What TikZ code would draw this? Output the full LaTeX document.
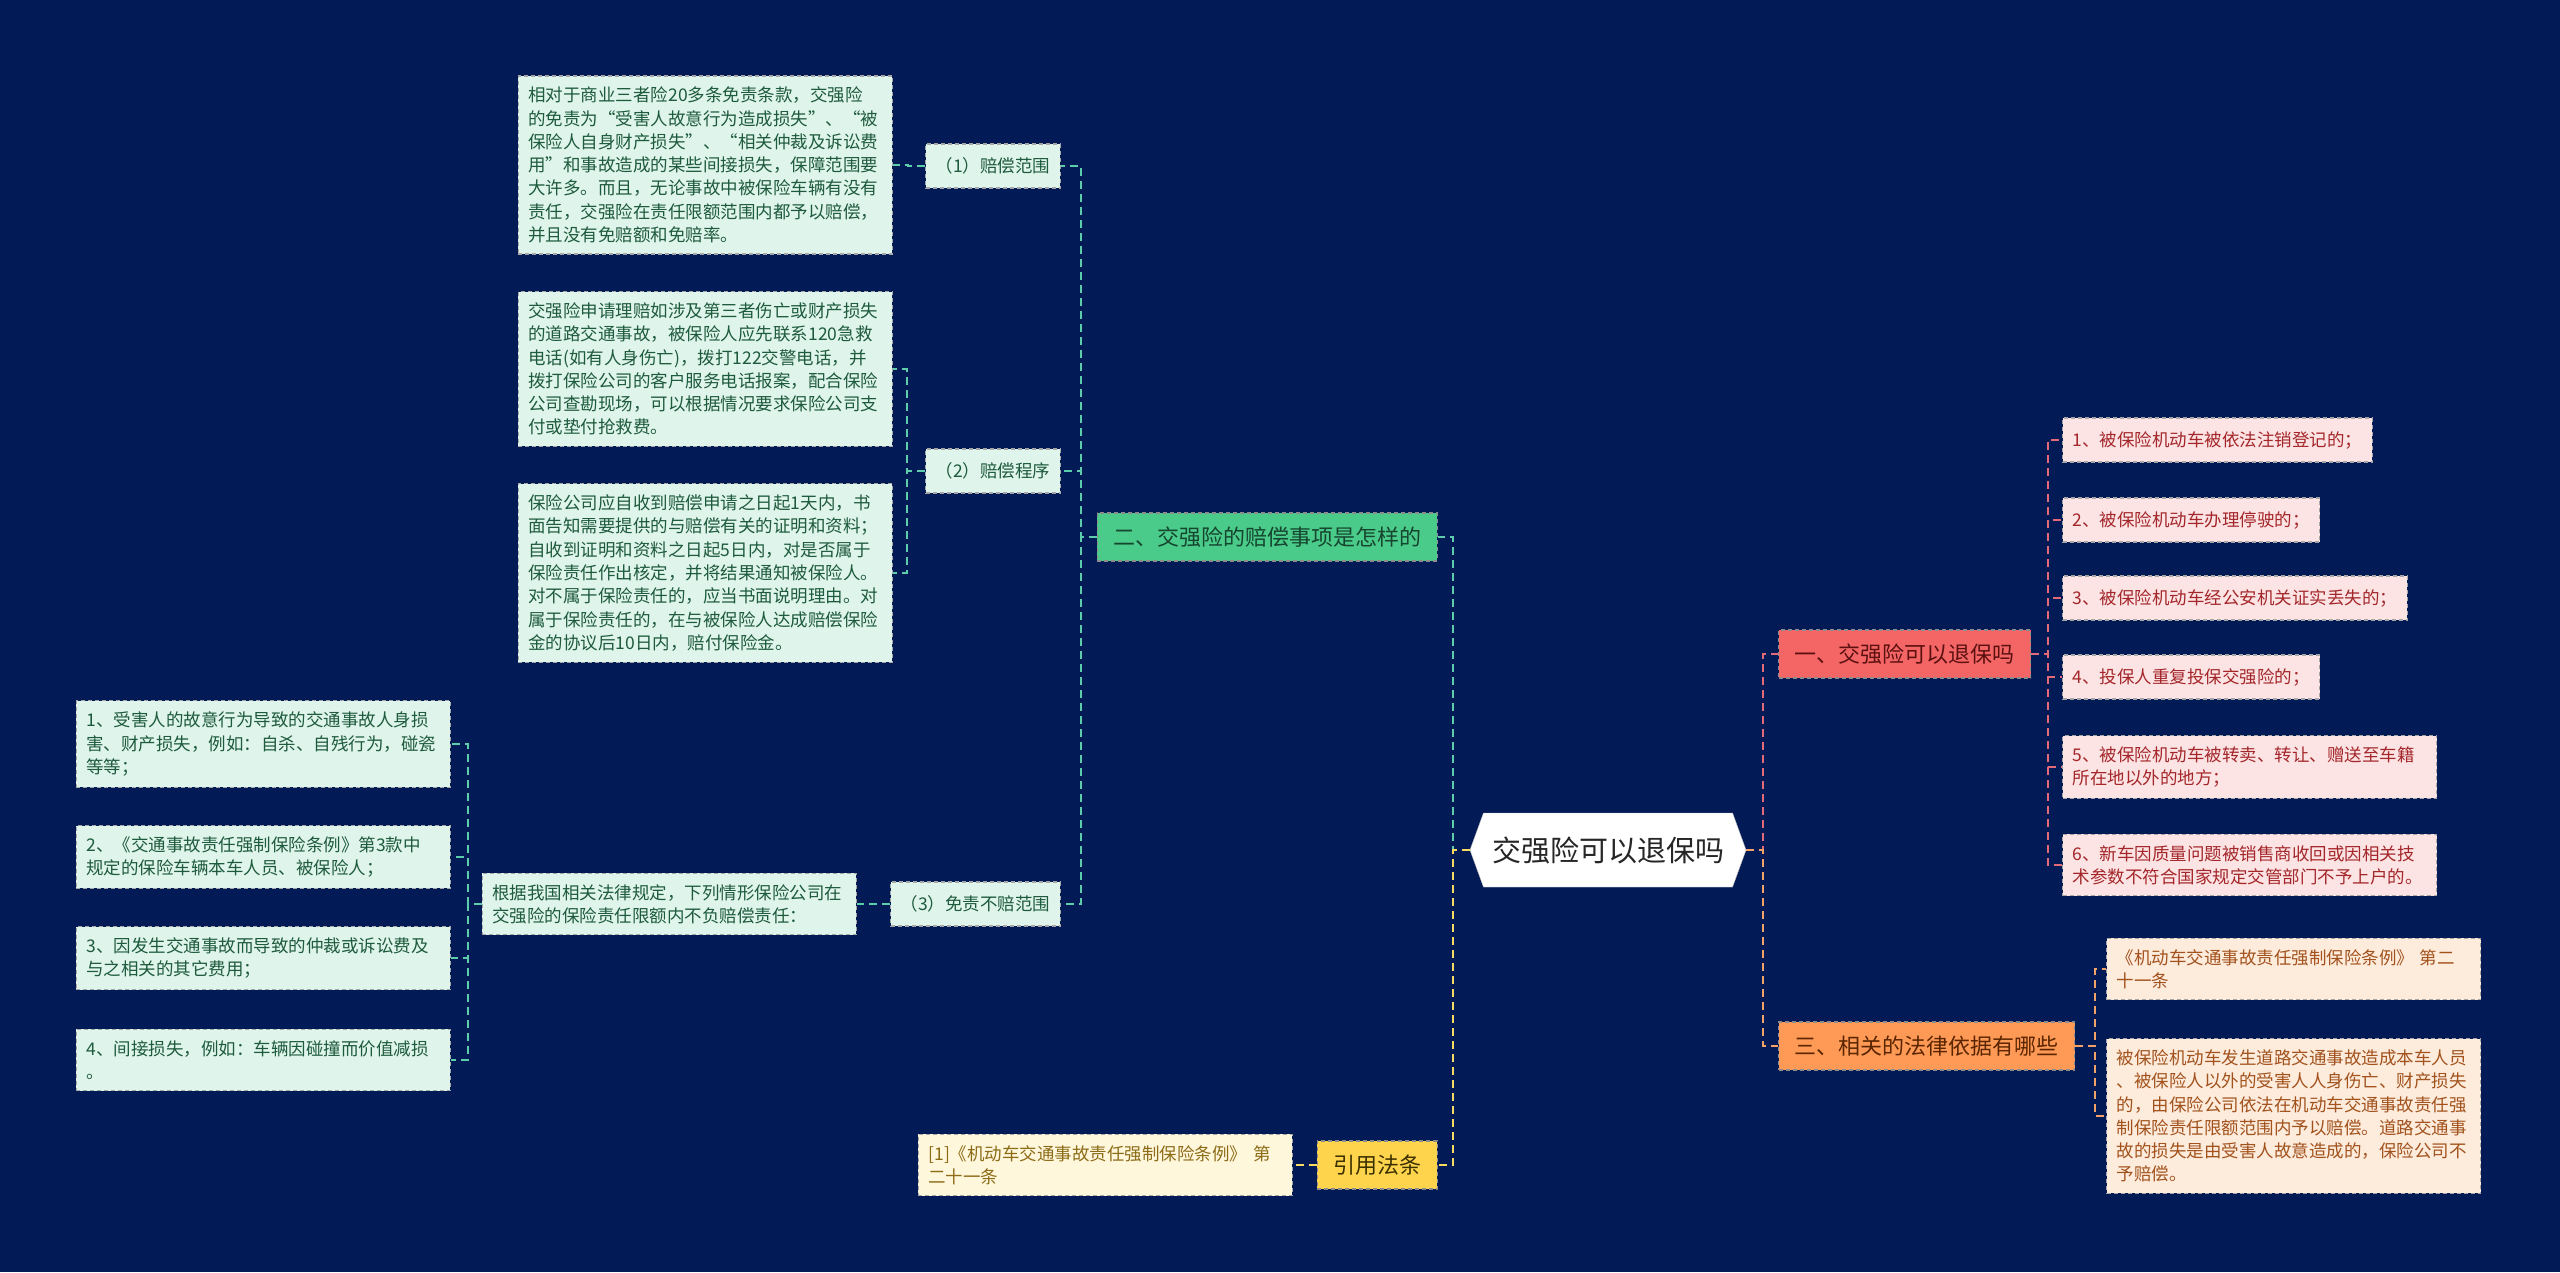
\documentclass[tikz,border=0pt]{standalone}
\usepackage{fontspec}
\setmainfont{Noto Sans CJK SC}
\usetikzlibrary{shapes.symbols}
\definecolor{bg}{HTML}{021B56}
\definecolor{gfill}{HTML}{DFF5EC}
\definecolor{gtext}{HTML}{1E5A3C}
\definecolor{gline}{HTML}{5CCDAA}
\definecolor{gsec}{HTML}{4ACB8A}
\definecolor{gsectext}{HTML}{16462F}
\definecolor{rfill}{HTML}{FDE4E4}
\definecolor{rtext}{HTML}{A3262A}
\definecolor{rline}{HTML}{E36B78}
\definecolor{rsec}{HTML}{F46666}
\definecolor{rsectext}{HTML}{5C1010}
\definecolor{ofill}{HTML}{FDEBDC}
\definecolor{otext}{HTML}{A2521D}
\definecolor{oline}{HTML}{F2A267}
\definecolor{osec}{HTML}{FF9A56}
\definecolor{osectext}{HTML}{5A2500}
\definecolor{yfill}{HTML}{FFF7DB}
\definecolor{ytext}{HTML}{8C6B17}
\definecolor{yline}{HTML}{F6DA62}
\definecolor{ysec}{HTML}{FFD44D}
\definecolor{ysectext}{HTML}{3B3000}
\tikzset{
  base/.style={rectangle, inner xsep=10pt, inner ysep=11pt, draw=black!35,
    line width=1.2pt, dash pattern=on 4pt off 3pt,
    font=\fontsize{17.5pt}{23.3pt}\selectfont},
  wide/.style={text width=354pt, align=left},
  one/.style={minimum height=44pt},
  leafg/.style={base, fill=gfill, text=gtext},
  leafr/.style={base, fill=rfill, text=rtext},
  leafo/.style={base, fill=ofill, text=otext},
  leafy/.style={base, fill=yfill, text=ytext},
  sec/.style={rectangle, inner xsep=16pt, minimum height=48pt, draw=black!45,
    line width=1.2pt, dash pattern=on 4pt off 3pt,
    font=\fontsize{22pt}{26pt}\selectfont},
  rootbox/.style={signal, signal to=west and east, signal pointer angle=140,
    fill=white, draw=black!25, minimum width=276pt, minimum height=74pt,
    font=\fontsize{29pt}{34pt}\selectfont, text=black!85},
  ln/.style={line width=2pt, dash pattern=on 8pt off 5pt},
  lng/.style={ln, draw=gline},
  lnr/.style={ln, draw=rline},
  lno/.style={ln, draw=oline},
  lny/.style={ln, draw=yline}
}
\begin{document}
\begin{tikzpicture}[x=1pt,y=-1pt]
\fill[bg] (0,0) rectangle (2560,1272);
\useasboundingbox (0,0) rectangle (2560,1272);

\node[rootbox] (root) at (1608,850) {交强险可以退保吗};

\node[sec, fill=gsec, text=gsectext, anchor=east] (sec2) at (1438,537) {二、交强险的赔偿事项是怎样的};
\node[sec, fill=ysec, text=ysectext, anchor=east] (secy) at (1438,1165) {引用法条};
\node[sec, fill=rsec, text=rsectext, anchor=west] (sec1) at (1778,654) {一、交强险可以退保吗};
\node[sec, fill=osec, text=osectext, anchor=west] (sec3) at (1778,1046) {三、相关的法律依据有哪些};

\node[leafg, one, anchor=east] (sub1) at (1061,166) {（1）赔偿范围};
\node[leafg, one, anchor=east] (sub2) at (1061,471) {（2）赔偿程序};
\node[leafg, one, anchor=east] (sub3) at (1061,904) {（3）免责不赔范围};

\node[leafg, wide, anchor=east] (a1) at (893,165) {相对于商业三者险20多条免责条款，交强险\\的免责为“受害人故意行为造成损失”、“被\\保险人自身财产损失”、“相关仲裁及诉讼费\\用”和事故造成的某些间接损失，保障范围要\\大许多。而且，无论事故中被保险车辆有没有\\责任，交强险在责任限额范围内都予以赔偿，\\并且没有免赔额和免赔率。};
\node[leafg, wide, anchor=east] (a2) at (893,369) {交强险申请理赔如涉及第三者伤亡或财产损失\\的道路交通事故，被保险人应先联系120急救\\电话(如有人身伤亡)，拨打122交警电话，并\\拨打保险公司的客户服务电话报案，配合保险\\公司查勘现场，可以根据情况要求保险公司支\\付或垫付抢救费。};
\node[leafg, wide, anchor=east] (a3) at (893,573) {保险公司应自收到赔偿申请之日起1天内，书\\面告知需要提供的与赔偿有关的证明和资料；\\自收到证明和资料之日起5日内，对是否属于\\保险责任作出核定，并将结果通知被保险人。\\对不属于保险责任的，应当书面说明理由。对\\属于保险责任的，在与被保险人达成赔偿保险\\金的协议后10日内，赔付保险金。};
\node[leafg, wide, anchor=east] (mid) at (857,904) {根据我国相关法律规定，下列情形保险公司在\\交强险的保险责任限额内不负赔偿责任：};

\node[leafg, wide, anchor=east] (l1) at (451,744) {1、受害人的故意行为导致的交通事故人身损\\害、财产损失，例如：自杀、自残行为，碰瓷\\等等；};
\node[leafg, wide, anchor=east] (l2) at (451,857) {2、《交通事故责任强制保险条例》第3款中\\规定的保险车辆本车人员、被保险人；};
\node[leafg, wide, anchor=east] (l3) at (451,958) {3、因发生交通事故而导致的仲裁或诉讼费及\\与之相关的其它费用；};
\node[leafg, wide, anchor=east] (l4) at (451,1060) {4、间接损失，例如：车辆因碰撞而价值减损\\。};

\node[leafy, wide, anchor=east] (cit) at (1293,1165) {[1]《机动车交通事故责任强制保险条例》 第\\二十一条};

\node[leafr, one, anchor=west] (r1) at (2062,440) {1、被保险机动车被依法注销登记的；};
\node[leafr, one, anchor=west] (r2) at (2062,520) {2、被保险机动车办理停驶的；};
\node[leafr, one, anchor=west] (r3) at (2062,598) {3、被保险机动车经公安机关证实丢失的；};
\node[leafr, one, anchor=west] (r4) at (2062,677) {4、投保人重复投保交强险的；};
\node[leafr, wide, anchor=west] (r5) at (2062,767) {5、被保险机动车被转卖、转让、赠送至车籍\\所在地以外的地方；};
\node[leafr, wide, anchor=west] (r6) at (2062,865) {6、新车因质量问题被销售商收回或因相关技\\术参数不符合国家规定交管部门不予上户的。};

\node[leafo, wide, anchor=west] (o1) at (2106,969) {《机动车交通事故责任强制保险条例》 第二\\十一条};
\node[leafo, wide, anchor=west] (o2) at (2106,1116) {被保险机动车发生道路交通事故造成本车人员\\、被保险人以外的受害人人身伤亡、财产损失\\的，由保险公司依法在机动车交通事故责任强\\制保险责任限额范围内予以赔偿。道路交通事\\故的损失是由受害人故意造成的，保险公司不\\予赔偿。};

\draw[lng] (root.west) -- ++(-17,0) |- (sec2.east);
\draw[lny] (root.west) -- ++(-17,0) |- (secy.east);
\draw[lnr] (root.east) -- ++(17,0) |- (sec1.west);
\draw[lno] (root.east) -- ++(17,0) |- (sec3.west);

\foreach \n in {sub1,sub2,sub3}
\draw[lng] (sec2.west) -- ++(-16,0) |- (\n.east);
\draw[lng] (sub1.west) -- ++(-17,0) |- (a1.east);
\foreach \n in {a2,a3}
\draw[lng] (sub2.west) -- ++(-18,0) |- (\n.east);
\draw[lng] (sub3.west) -- ++(-17,0) |- (mid.east);
\foreach \n in {l1,l2,l3,l4}
\draw[lng] (mid.west) -- ++(-14,0) |- (\n.east);

\draw[lny] (secy.west) -- ++(-14,0) |- (cit.east);

\foreach \n in {r1,r2,r3,r4,r5,r6}
\draw[lnr] (sec1.east) -- ++(17,0) |- (\n.west);
\foreach \n in {o1,o2}
\draw[lno] (sec3.east) -- ++(20,0) |- (\n.west);
\end{tikzpicture}
\end{document}
